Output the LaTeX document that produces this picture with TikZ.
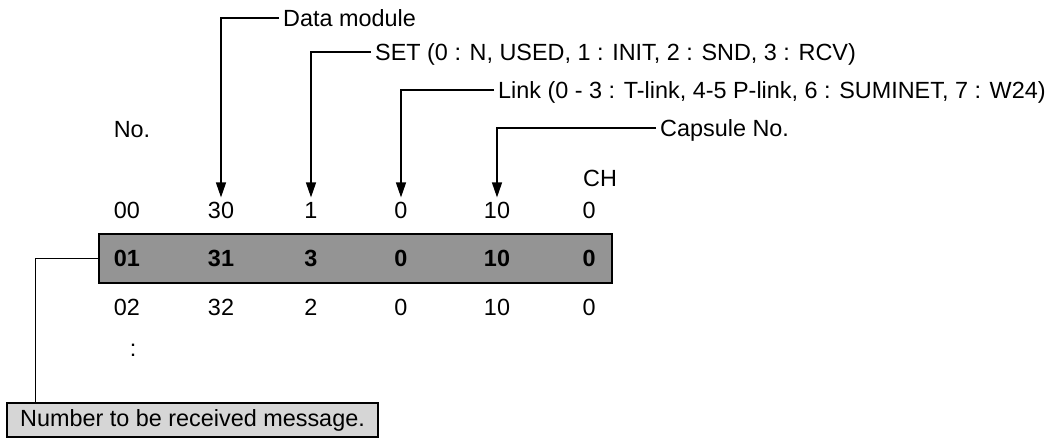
\documentclass[tikz,border=0pt]{standalone}
\usepackage{fontspec}
\setmainfont{Liberation Sans}
\usetikzlibrary{arrows.meta}
\begin{document}
\begin{tikzpicture}[x=1pt,y=-1pt,
  txt/.style={font=\fontsize{23.4}{28}\selectfont, inner xsep=4pt, inner ysep=4pt, text height=16.8pt, text depth=0pt},
  lbl/.style={txt, anchor=west},
  cell/.style={txt, anchor=center},
  hcell/.style={cell, font=\fontsize{23.4}{28}\selectfont\bfseries},
  conn/.style={line width=1.3pt, draw=black},
  arr/.style={conn, -{Triangle[length=15pt,width=10pt]}},
  rowbox/.style={draw=black, line width=1.6pt, fill=black!42, minimum width=513pt, minimum height=49pt, inner sep=0pt},
  msgbox/.style={draw=black, line width=1.4pt, fill=black!16, minimum width=371pt, minimum height=34pt, inner sep=0pt, font=\fontsize{23.4}{28}\selectfont}
]
\useasboundingbox (0,0) rectangle (1056,438);

% highlighted row box
\node[rowbox] (rb) at (355.5,258.5) {};

% header labels
\node[lbl] (dm)  at (279,18)  {Data module};
\node[lbl] (set) at (371,52)  {SET (0 : N, USED, 1 : INIT, 2 : SND, 3 : RCV)};
\node[lbl] (lnk) at (494,90)  {Link (0 - 3 : T-link, 4-5 P-link, 6 : SUMINET, 7 : W24)};
\node[lbl] (cap) at (656,128) {Capsule No.};

\node[cell] (hno) at (132,129) {No.};
\node[cell] (hch) at (600,178) {CH};

% row 00
\node[cell] (a1) at (127,210) {00};
\node[cell] (a2) at (221,210) {30};
\node[cell] (a3) at (311,210) {1};
\node[cell] (a4) at (401,210) {0};
\node[cell] (a5) at (497,210) {10};
\node[cell] (a6) at (589,210) {0};
% row 01 (highlighted)
\node[hcell] (b1) at (127,258) {01};
\node[hcell] (b2) at (221,258) {31};
\node[hcell] (b3) at (311,258) {3};
\node[hcell] (b4) at (401,258) {0};
\node[hcell] (b5) at (497,258) {10};
\node[hcell] (b6) at (589,258) {0};
% row 02
\node[cell] (c1) at (127,307) {02};
\node[cell] (c2) at (221,307) {32};
\node[cell] (c3) at (311,307) {2};
\node[cell] (c4) at (401,307) {0};
\node[cell] (c5) at (497,307) {10};
\node[cell] (c6) at (589,307) {0};

\node[cell] (dots) at (133,348) {:};

% message box
\node[msgbox] (msg) at (192.5,420) {Number to be received message.};

% connectors
\draw[arr] (dm.west)  -| (a2.north);
\draw[arr] (set.west) -| (a3.north);
\draw[arr] (lnk.west) -| (a4.north);
\draw[arr] (cap.west) -| (a5.north);
\draw[conn] (rb.west) -| ([xshift=29pt]msg.north west);
\end{tikzpicture}
\end{document}
